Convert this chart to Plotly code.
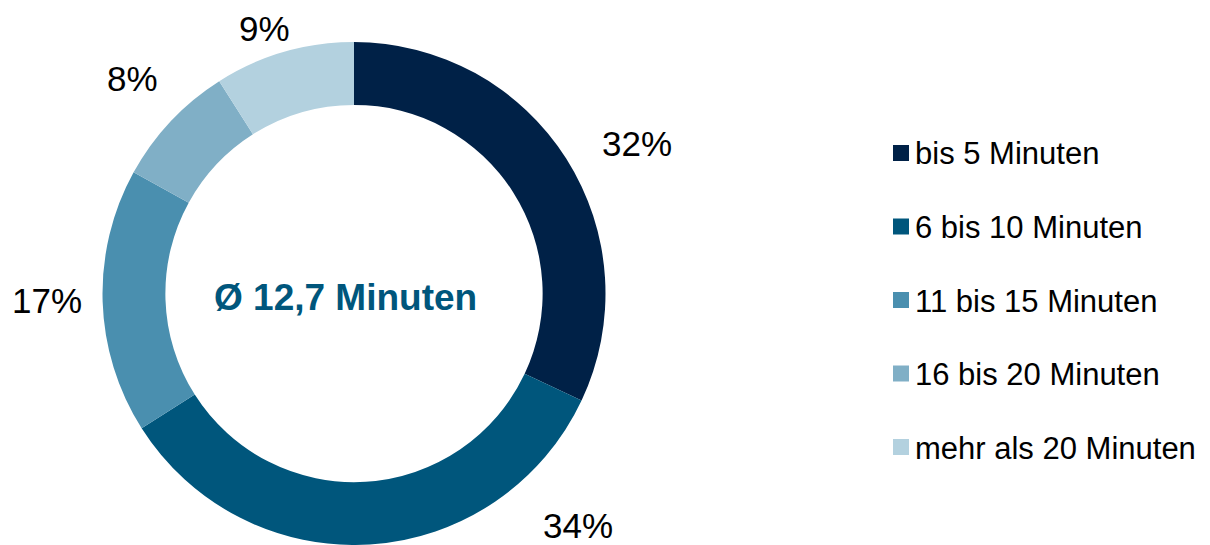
import math
import plotly.graph_objects as go

# ---- data ----
categories = ["bis 5 Minuten", "6 bis 10 Minuten", "11 bis 15 Minuten",
              "16 bis 20 Minuten", "mehr als 20 Minuten"]
values = [32, 34, 17, 8, 9]
colors = ["#002147", "#00567C", "#4A8FAF", "#80AFC6", "#B3D1DF"]
center_text = "Ø 12,7 Minuten"

# ---- layout constants (pixels, in reference-image coordinates) ----
OFF = 8                       # page body margin of the rendered html
W, H = 1210 - OFF, 545 - OFF  # figure size
CX, CY, R = 354, 294, 252
M_TOP = CY - R - OFF
FONT = "Liberation Sans, Arial, sans-serif"

# label placement tweaks (angle shift in degrees, distance in px from centre)
label_shift = [4.4, -40.4, 0.5, 1.1, -2.5]
label_dist = [321, 322, 307, 309, 280]


def px_to_paper(x, y):
    """reference-image pixel -> paper coordinates"""
    x -= OFF
    y -= OFF
    return x / W, (H - y) / (H - M_TOP)


fig = go.Figure()
fig.add_trace(go.Pie(
    labels=categories,
    values=values,
    marker=dict(colors=colors, line=dict(width=0)),
    hole=0.75,
    sort=False,
    direction="clockwise",
    rotation=0,
    textinfo="none",
    hoverinfo="label+percent",
    showlegend=False,
    domain=dict(x=[(CX - R - OFF) / W, (CX + R - OFF) / W], y=[0, 1]),
))

annotations = []
total = sum(values)
cum = 0
for i, v in enumerate(values):
    mid = (cum + v / 2) / total * 360
    cum += v
    ang = math.radians(mid + label_shift[i])
    lx = CX + label_dist[i] * math.sin(ang)
    ly = CY - label_dist[i] * math.cos(ang)
    xp, yp = px_to_paper(lx, ly)
    annotations.append(dict(
        x=xp, y=yp, xref="paper", yref="paper", showarrow=False,
        text=f"{round(v / total * 100)}%", xanchor="center", yanchor="middle",
        borderpad=0,
        font=dict(family=FONT, size=35, color="#000000"),
    ))

# centre text
xp, yp = px_to_paper(346, 297)
annotations.append(dict(
    x=xp, y=yp, xref="paper", yref="paper", showarrow=False,
    text=f"<b>{center_text}</b>", xanchor="center", yanchor="middle",
    font=dict(family=FONT, size=37, color="#00567C"),
))

# manual legend
shapes = []
LEG_X, LEG_Y0, LEG_STEP, SQ = 901, 153, 73.5, 16
for i, (c, col) in enumerate(zip(categories, colors)):
    yc = LEG_Y0 + i * LEG_STEP
    x0, y0 = px_to_paper(LEG_X - SQ / 2, yc + SQ / 2)
    x1, y1 = px_to_paper(LEG_X + SQ / 2, yc - SQ / 2)
    shapes.append(dict(type="rect", xref="paper", yref="paper",
                       x0=x0, y0=y0, x1=x1, y1=y1,
                       fillcolor=col, line=dict(width=0)))
    tx, ty = px_to_paper(LEG_X + SQ / 2 + 5, yc + 1)
    annotations.append(dict(
        x=tx, y=ty, xref="paper", yref="paper", showarrow=False,
        text=c, xanchor="left", yanchor="middle", borderpad=0,
        font=dict(family=FONT, size=31, color="#000000"),
    ))

fig.update_layout(
    width=W, height=H,
    margin=dict(l=0, r=0, t=M_TOP, b=0, autoexpand=False),
    paper_bgcolor="white", plot_bgcolor="white",
    annotations=annotations, shapes=shapes,
    showlegend=False,
)

fig.write_html("out.html")
